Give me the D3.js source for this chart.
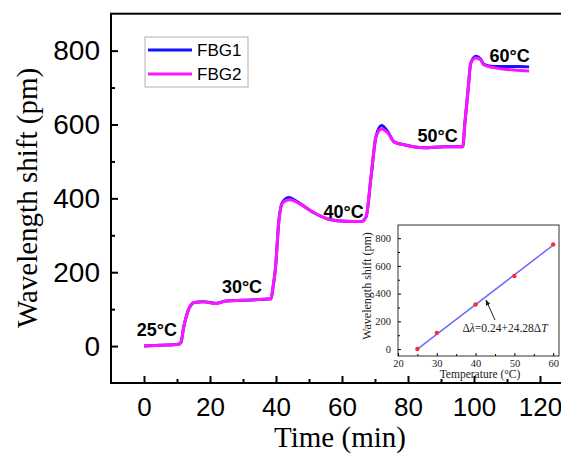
<!DOCTYPE html>
<html>
<head>
<meta charset="utf-8">
<script src="https://cdn.jsdelivr.net/npm/d3@7"></script>
<style>
  body { margin: 0; background: #fff; }
  svg { display: block; }
</style>
</head>
<body>
<svg id="chart" width="561" height="455"></svg>
<script>
// time axis (min) shared by both gratings
const times = [0, 5, 10.5, 11.2, 12, 13.3, 15.2, 18, 21.8, 24.8, 30, 38.5, 39.1, 39.8, 40.9, 42, 44, 45.5, 47.6, 51.5, 56.7, 61, 65.8, 67.3, 68.8, 70.3, 72, 73.9, 75.8, 78.8, 84.8, 90.9, 96.6, 97.2, 98.2, 99, 100.6, 102, 103, 106, 110, 113, 116.7];
const fbg1 = [0, 2, 5, 10, 50, 94, 118, 120, 116, 122, 124, 128, 160, 207, 342, 390, 402, 396, 384, 361, 342, 338, 337, 350, 458, 567, 597, 580, 553, 545, 537, 540, 540, 600, 693, 766, 785, 777, 763, 757, 757, 757, 756];
const fbg2 = [0, 2, 5, 10, 50, 94, 118, 120, 115, 122, 124, 128, 160, 207, 342, 388, 396, 393, 383, 361, 342, 338, 337, 350, 458, 567, 588, 577, 553, 545, 537, 540, 540, 600, 693, 766, 780, 775, 761, 754, 749, 747, 745];
const tempLabels = ["25°C", "30°C", "40°C", "50°C", "60°C"];
const tempLabelT = [3.9, 29.7, 60.5, 89, 110.8];
const tempLabelV = [26, 145, 348, 553, 770];
const xTicks = [0, 20, 40, 60, 80, 100, 120];
const yTicks = [0, 200, 400, 600, 800];

// inset: linear fit of shift vs temperature
const insetTemp = [25, 30, 40, 50, 60];
const insetShift = [0, 117, 322, 527, 755];
const fitTemp = [25, 60];
const fitShift = [-1, 750];
const insetXTicks = [20, 30, 40, 50, 60];
const insetYTicks = [0, 200, 400, 600, 800];

const svg = d3.select("#chart");
const serif = "'Liberation Serif', 'Times New Roman', serif";
const sans = "'Liberation Sans', Arial, sans-serif";

// main plot scales
const x = d3.scaleLinear().domain([-10, 130]).range([111, 573]);
const y = d3.scaleLinear().domain([-100, 900]).range([383, 13.7]);

// x axis (ticks pointing inward)
const gx = svg.append("g")
  .attr("transform", "translate(0," + y(-100) + ")")
  .call(d3.axisBottom(x).tickValues(xTicks).tickSize(-7).tickPadding(15));
gx.select(".domain").remove();
gx.selectAll("line").attr("stroke", "#000").attr("stroke-width", 2);
gx.selectAll("text").style("font-family", sans).style("font-size", "26px").attr("fill", "#000");
svg.append("g")
  .attr("transform", "translate(0," + y(-100) + ")")
  .call(d3.axisBottom(x).tickValues(d3.range(10, 130, 20)).tickSize(-4).tickFormat(""))
  .call(g => g.select(".domain").remove())
  .selectAll("line").attr("stroke", "#000").attr("stroke-width", 2);

// y axis
const gy = svg.append("g")
  .attr("transform", "translate(" + x(-10) + ",0)")
  .call(d3.axisLeft(y).tickValues(yTicks).tickSize(-7).tickPadding(11));
gy.select(".domain").remove();
gy.selectAll("line").attr("stroke", "#000").attr("stroke-width", 2);
gy.selectAll("text").style("font-family", sans).style("font-size", "28px").attr("fill", "#000");
svg.append("g")
  .attr("transform", "translate(" + x(-10) + ",0)")
  .call(d3.axisLeft(y).tickValues([100, 300, 500, 700]).tickSize(-4).tickFormat(""))
  .call(g => g.select(".domain").remove())
  .selectAll("line").attr("stroke", "#000").attr("stroke-width", 2);

// frame
svg.append("rect")
  .attr("x", x(-10)).attr("y", y(900))
  .attr("width", x(130) - x(-10)).attr("height", y(-100) - y(900))
  .attr("fill", "none").attr("stroke", "#000").attr("stroke-width", 2);

// axis titles
svg.append("text")
  .attr("transform", "translate(37,198) rotate(-90)")
  .attr("text-anchor", "middle")
  .style("font-family", serif).style("font-size", "29px")
  .text("Wavelength shift (pm)");
svg.append("text")
  .attr("x", 340).attr("y", 447)
  .attr("text-anchor", "middle")
  .style("font-family", serif).style("font-size", "29px")
  .text("Time (min)");

// curves
const line = d3.line()
  .x(d => x(d[0]))
  .y(d => y(d[1]))
  .curve(d3.curveMonotoneX);
svg.append("path")
  .datum(times.map((t, i) => [t, fbg1[i]]))
  .attr("d", line)
  .attr("fill", "none").attr("stroke", "#1414ff").attr("stroke-width", 3);
svg.append("path")
  .datum(times.map((t, i) => [t, fbg2[i]]))
  .attr("d", line)
  .attr("fill", "none").attr("stroke", "#ff14ff").attr("stroke-width", 3);

// temperature labels
svg.selectAll(".temp").data(tempLabels).enter().append("text")
  .attr("class", "temp")
  .attr("x", (d, i) => x(tempLabelT[i]))
  .attr("y", (d, i) => y(tempLabelV[i]))
  .attr("text-anchor", "middle")
  .style("font-family", sans).style("font-size", "18px").style("font-weight", "bold")
  .text(d => d);

// legend
const legend = svg.append("g");
legend.append("rect")
  .attr("x", 145).attr("y", 37).attr("width", 103).attr("height", 50)
  .attr("fill", "#fff").attr("stroke", "#b0b0b0").attr("stroke-width", 1);
[["FBG1", "#1414ff", 50], ["FBG2", "#ff14ff", 74]].forEach(function(item) {
  legend.append("line")
    .attr("x1", 148).attr("x2", 192).attr("y1", item[2]).attr("y2", item[2])
    .attr("stroke", item[1]).attr("stroke-width", 3);
  legend.append("text")
    .attr("x", 197).attr("y", item[2] + 6)
    .style("font-family", sans).style("font-size", "17px")
    .text(item[0]);
});

// inset
const ix = d3.scaleLinear().domain([20, 61.5]).range([398, 559]);
const iy = d3.scaleLinear().domain([-50, 895]).range([356, 225]);
const inset = svg.append("g");
inset.append("rect")
  .attr("x", 398).attr("y", 225).attr("width", 161).attr("height", 131)
  .attr("fill", "#fff").attr("stroke", "#333").attr("stroke-width", 1);

const igx = inset.append("g")
  .attr("transform", "translate(0,356)")
  .call(d3.axisBottom(ix).tickValues(insetXTicks).tickSize(-3).tickPadding(4));
igx.select(".domain").remove();
igx.selectAll("text").style("font-family", serif).style("font-size", "10.5px").attr("fill", "#222");
inset.append("g")
  .attr("transform", "translate(0,356)")
  .call(d3.axisBottom(ix).tickValues([25, 35, 45, 55]).tickSize(-2).tickFormat(""))
  .call(g => g.select(".domain").remove());

const igy = inset.append("g")
  .attr("transform", "translate(398,0)")
  .call(d3.axisLeft(iy).tickValues(insetYTicks).tickSize(-3).tickPadding(7));
igy.select(".domain").remove();
igy.selectAll("text").style("font-family", serif).style("font-size", "10.5px").attr("fill", "#222");
inset.append("g")
  .attr("transform", "translate(398,0)")
  .call(d3.axisLeft(iy).tickValues([100, 300, 500, 700]).tickSize(-2).tickFormat(""))
  .call(g => g.select(".domain").remove());

inset.append("text")
  .attr("transform", "translate(371,286) rotate(-90)")
  .attr("text-anchor", "middle")
  .style("font-family", serif).style("font-size", "12px").attr("fill", "#222")
  .text("Wavelength shift  (pm)");
inset.append("text")
  .attr("x", 480).attr("y", 378)
  .attr("text-anchor", "middle")
  .style("font-family", serif).style("font-size", "11.5px").attr("fill", "#222")
  .text("Temperature (°C)");

inset.append("path")
  .datum(fitTemp.map((t, i) => [t, fitShift[i]]))
  .attr("d", d3.line().x(d => ix(d[0])).y(d => iy(d[1])))
  .attr("stroke", "#6a6aff").attr("stroke-width", 1.5).attr("fill", "none");
inset.selectAll(".pt").data(insetTemp).enter().append("circle")
  .attr("class", "pt")
  .attr("cx", d => ix(d))
  .attr("cy", (d, i) => iy(insetShift[i]))
  .attr("r", 2.2)
  .attr("fill", "#ff2a2a");

// fit annotation with arrow
const defs = svg.append("defs");
defs.append("marker")
  .attr("id", "arrow").attr("viewBox", "0 0 10 10")
  .attr("refX", 9).attr("refY", 5)
  .attr("markerWidth", 6).attr("markerHeight", 6)
  .attr("orient", "auto")
  .append("path").attr("d", "M0,1 L10,5 L0,9 Z").attr("fill", "#222");
inset.append("line")
  .attr("x1", 495).attr("y1", 320).attr("x2", 486).attr("y2", 300)
  .attr("stroke", "#222").attr("stroke-width", 1)
  .attr("marker-end", "url(#arrow)");
const eq = inset.append("text")
  .attr("x", 505).attr("y", 332)
  .attr("text-anchor", "middle")
  .style("font-family", serif).style("font-size", "11.5px").attr("fill", "#222");
eq.append("tspan").text("Δ");
eq.append("tspan").style("font-style", "italic").text("λ");
eq.append("tspan").text("=0.24+24.28Δ");
eq.append("tspan").style("font-style", "italic").text("T");
</script>
</body>
</html>
